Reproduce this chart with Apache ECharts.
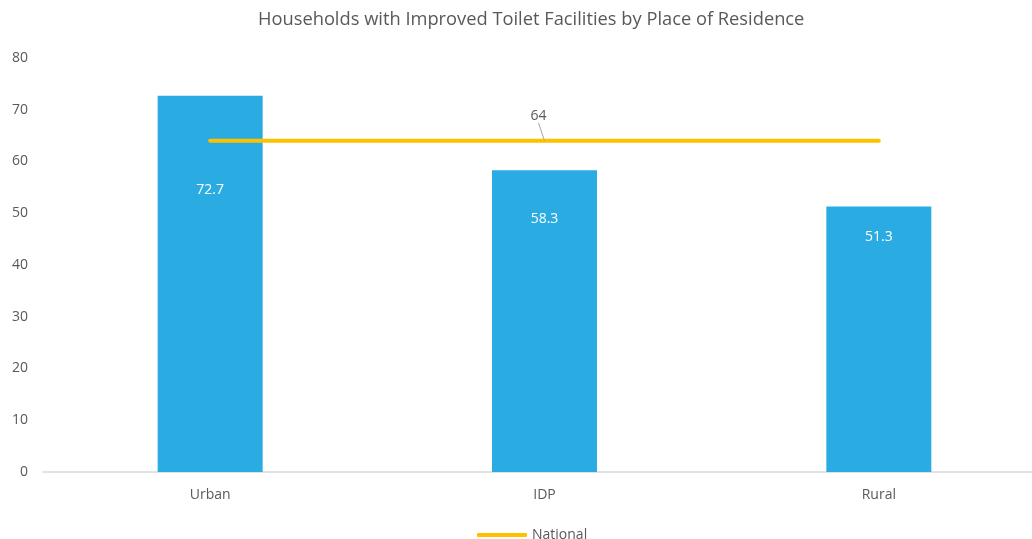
<!DOCTYPE html>
<html><head><meta charset="utf-8">
<script src="https://cdn.jsdelivr.net/npm/echarts@6/dist/echarts.min.js"></script>
<style>html,body{margin:0;padding:0;background:#fff;overflow:hidden}#c{width:1046px;height:539px}</style>
</head><body><div id="c"></div>
<script>
const categories = ['Urban', 'IDP', 'Rural'];
const householdValues = [72.7, 58.3, 51.3];
const nationalValues = [64, 64, 64];
const yTicks = [0, 10, 20, 30, 40, 50, 60, 70, 80];

const labelDist = [87, 42, 23];
const chart = echarts.init(document.getElementById('c'));
const font = '"Open Sans", sans-serif';
chart.setOption({
  animation: false,
  title: {text: 'Households with Improved Toilet Facilities by Place of Residence', left: 253, top: 6,
    textStyle: {fontFamily: font, fontSize: 18.3, fontWeight: 'normal', color: '#595959'}},
  grid: {left: 43, top: 58, bottom: 67, right: 0},
  legend: {bottom: -8, left: 472, itemWidth: 50, itemHeight: 4, itemGap: 5,
    data: [{name: 'National', icon: 'roundRect'}],
    textStyle: {fontFamily: font, fontSize: 14, color: '#595959'}},
  xAxis: {type: 'category', data: categories,
    axisLine: {lineStyle: {color: '#D9D9D9', width: 1.5}}, axisTick: {show: false},
    axisLabel: {fontFamily: font, fontSize: 14, color: '#595959', margin: 16}},
  yAxis: {type: 'value', min: yTicks[0], max: yTicks[yTicks.length - 1], interval: 10,
    splitLine: {show: false}, axisLine: {show: false}, axisTick: {show: false},
    axisLabel: {fontFamily: font, fontSize: 14, color: '#595959', margin: 15}},
  series: [
    {name: 'Households', type: 'bar', barWidth: 105,
      itemStyle: {color: '#2AACE2'},
      data: householdValues.map((v, i) => ({value: v,
        label: {show: true, position: 'insideTop', distance: labelDist[i], color: '#fff', fontFamily: font, fontSize: 14}}))},
    {name: 'National', type: 'line', symbol: 'circle', symbolSize: 0.1, showSymbol: true, z: 5,
      lineStyle: {color: '#FFC000', width: 4, cap: 'round'},
      itemStyle: {color: '#FFC000'},
      labelLine: {show: true, lineStyle: {color: '#A6A6A6', width: 1}},
      labelLayout: {dx: -6, dy: -18},
      data: nationalValues.map((v, i) => i === 1 ? {value: v,
        label: {show: true, position: 'top', distance: 0, color: '#595959', fontFamily: font, fontSize: 14},
        labelLine: {show: true, lineStyle: {color: '#A6A6A6', width: 1}}} : v)}
  ]
});
</script></body></html>
